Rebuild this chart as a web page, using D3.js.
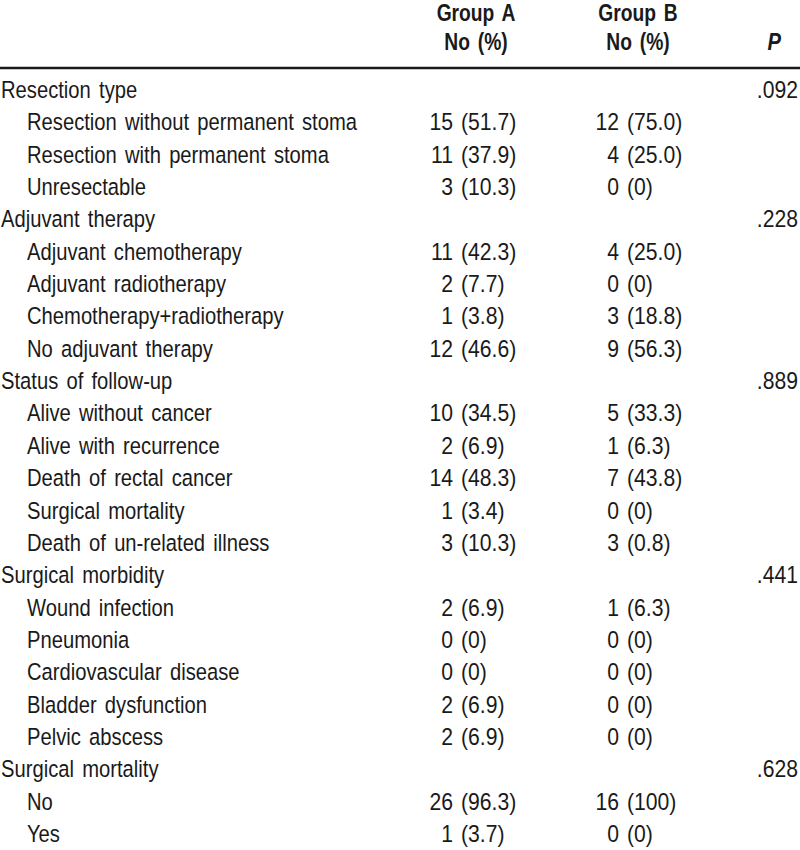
<!DOCTYPE html>
<html>
<head>
<meta charset="utf-8">
<script src="https://cdn.jsdelivr.net/npm/d3@7/dist/d3.min.js"></script>
<style>
  html, body { margin: 0; padding: 0; background: #fff; }
  svg text { font-family: "Liberation Sans", Arial, sans-serif; fill: #1a1a1a; }
</style>
</head>
<body>
<svg id="chart" width="800" height="850"></svg>
<script>
// ---- data ----
const headers = ["Group A", "Group B"];
const subHeaders = ["No (%)", "No (%)"];
const pHeader = "P";

const rowLabels = [
  "Resection type",
  "Resection without permanent stoma",
  "Resection with permanent stoma",
  "Unresectable",
  "Adjuvant therapy",
  "Adjuvant chemotherapy",
  "Adjuvant radiotherapy",
  "Chemotherapy+radiotherapy",
  "No adjuvant therapy",
  "Status of follow-up",
  "Alive without cancer",
  "Alive with recurrence",
  "Death of rectal cancer",
  "Surgical mortality",
  "Death of un-related illness",
  "Surgical morbidity",
  "Wound infection",
  "Pneumonia",
  "Cardiovascular disease",
  "Bladder dysfunction",
  "Pelvic abscess",
  "Surgical mortality",
  "No",
  "Yes"
];
const rowIndent = [0,1,1,1, 0,1,1,1,1, 0,1,1,1,1,1, 0,1,1,1,1,1, 0,1,1];
const groupA = [
  "", "15 (51.7)", "11 (37.9)", "3 (10.3)",
  "", "11 (42.3)", "2 (7.7)", "1 (3.8)", "12 (46.6)",
  "", "10 (34.5)", "2 (6.9)", "14 (48.3)", "1 (3.4)", "3 (10.3)",
  "", "2 (6.9)", "0 (0)", "0 (0)", "2 (6.9)", "2 (6.9)",
  "", "26 (96.3)", "1 (3.7)"
];
const groupB = [
  "", "12 (75.0)", "4 (25.0)", "0 (0)",
  "", "4 (25.0)", "0 (0)", "3 (18.8)", "9 (56.3)",
  "", "5 (33.3)", "1 (6.3)", "7 (43.8)", "0 (0)", "3 (0.8)",
  "", "1 (6.3)", "0 (0)", "0 (0)", "0 (0)", "0 (0)",
  "", "16 (100)", "0 (0)"
];
const pValues = [
  ".092", "", "", "",
  ".228", "", "", "", "",
  ".889", "", "", "", "", "",
  ".441", "", "", "", "", "",
  ".628", "", ""
];

// ---- layout ----
const W = 800, H = 850;
const fontSize = 23.5;
const sx = 0.86;          // horizontal condensing
const svg = d3.select("#chart");

const y = d3.scaleLinear().domain([0, rowLabels.length - 1]).range([98, 842]);
const colX = { label: 1, indent: 27, aCount: 453, bCount: 619, p: 798 };
const headerCenters = [476, 638];

function txt(parent, x, yy, s, anchor, opts = {}) {
  const t = parent.append("text")
    .attr("transform", `translate(${x},${yy}) scale(${opts.sx || sx},1)`)
    .attr("text-anchor", anchor)
    .attr("font-size", fontSize)
    .attr("word-spacing", opts.ws || 0)
    .text(s);
  if (opts.bold) t.attr("font-weight", "bold");
  if (opts.italic) t.attr("font-style", "italic");
  return t;
}

// header
const hdr = svg.append("g").attr("class", "header");
headers.forEach((h, i) => txt(hdr, headerCenters[i], 21, h, "middle", { bold: true, ws: 3, sx: 0.82 }));
subHeaders.forEach((h, i) => txt(hdr, headerCenters[i], 50, h, "middle", { bold: true, ws: 3, sx: 0.82 }));
txt(hdr, 781, 50, pHeader, "end", { bold: true, italic: true });

svg.append("line")
  .attr("x1", 0).attr("x2", W).attr("y1", 68).attr("y2", 68)
  .attr("stroke", "#1a1a1a").attr("stroke-width", 2.5);

// body
const data = rowLabels.map((label, i) => ({
  label, indent: rowIndent[i], a: groupA[i], b: groupB[i], p: pValues[i], i
}));
const body = svg.append("g");
data.forEach(d => {
  const g = body.append("g").attr("transform", `translate(0,${y(d.i)})`);
  txt(g, d.indent ? colX.indent : colX.label, 0, d.label, "start", { ws: 3 });
  [["a", colX.aCount], ["b", colX.bCount]].forEach(([k, xc]) => {
    if (!d[k]) return;
    const parts = d[k].split(" ");
    txt(g, xc, 0, parts[0], "end", { sx: 0.9 });
    txt(g, xc + 8, 0, parts.slice(1).join(" "), "start", { sx: 0.9 });
  });
  if (d.p) txt(g, colX.p, 0, d.p, "end", { sx: 0.9 });
});
</script>
</body>
</html>
